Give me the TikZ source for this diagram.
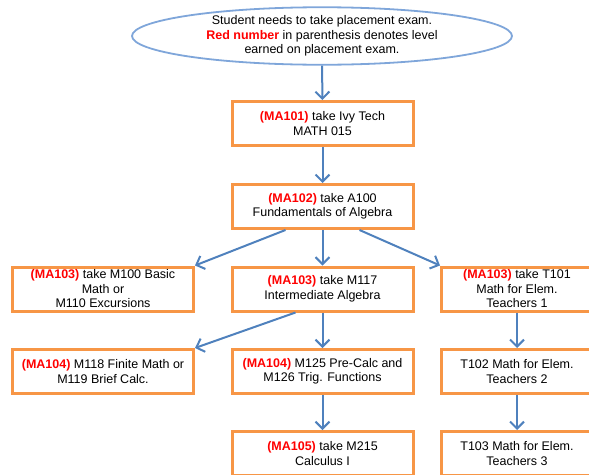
\documentclass[tikz,border=0pt]{standalone}
\usepackage{fontspec}
\setmainfont{Liberation Sans}
\usetikzlibrary{shapes.geometric,arrows.meta}

\definecolor{boxorange}{HTML}{F79646}
\definecolor{flowblue}{HTML}{4F81BD}
\definecolor{ovalblue}{HTML}{7FA6DA}
\definecolor{levelred}{HTML}{FF0000}
\newcommand{\lvl}[1]{\textcolor{levelred}{\textbf{(#1)}}}

\tikzset{
  course/.style={draw=boxorange, line width=3pt, fill=white, minimum width=181pt,
    minimum height=44pt, align=center, inner sep=0pt, font=\fontsize{12.5}{14.5}\selectfont},
  narrow/.style={course, minimum width=151pt},
  flow/.style={draw=flowblue, line width=2pt, -{Straight Barb[length=7pt,width=14pt]}},
}

\begin{document}
\begin{tikzpicture}[x=1pt, y=-1pt]
    \clip (0,0) rectangle (589,474);

    % start
    \node [ellipse, draw=ovalblue, line width=1.8pt, fill=white, minimum width=380pt,
      minimum height=55pt, inner sep=0pt, align=center,
      font=\fontsize{12.5}{14.5}\selectfont] (intro) at (322, 36)
      {Student needs to take placement exam.\\
       \textcolor{levelred}{\textbf{Red number}} in parenthesis denotes level\\
       earned on placement exam.};

    % middle column
    \node [course] (ivy) at (322.5, 123.5) {\lvl{MA101} take Ivy Tech\\MATH 015};
    \node [course] (alg) at (322.5, 206.5) {\lvl{MA102} take A100\\Fundamentals of Algebra};
    \node [course] (inter) at (322.5, 289) {\lvl{MA103} take M117\\Intermediate Algebra};
    \node [course] (precalc) at (322.5, 371.5) {\lvl{MA104} M125 Pre-Calc and\\M126 Trig. Functions};
    \node [course] (calc) at (322.5, 453.5) {\lvl{MA105} take M215\\Calculus I};

    % left column
    \node [course] (basic) at (103, 289) {\lvl{MA103} take M100 Basic\\Math or\\M110 Excursions};
    \node [course] (finite) at (103, 371.5) {\lvl{MA104} M118 Finite Math or\\M119 Brief Calc.};

    % right column
    \node [narrow] (elem1) at (517, 289) {\lvl{MA103} take T101\\Math for Elem.\\Teachers 1};
    \node [narrow] (elem2) at (517, 371.5) {T102 Math for Elem.\\Teachers 2};
    \node [narrow] (elem3) at (517, 453.5) {T103 Math for Elem.\\Teachers 3};

    \draw [flow] (intro.south) -- (ivy.north);
    \draw [flow] (ivy.south) -- (alg.north);
    \draw [flow] ([xshift=-37pt]alg.south) -- (basic.north east);
    \draw [flow] (alg.south) -- (inter.north);
    \draw [flow] ([xshift=37pt]alg.south) -- (elem1.north west);
    \draw [flow] ([xshift=-27pt]inter.south) -- (finite.north east);
    \draw [flow] (inter.south) -- (precalc.north);
    \draw [flow] (precalc.south) -- (calc.north);
    \draw [flow] (elem1.south) -- (elem2.north);
    \draw [flow] (elem2.south) -- (elem3.north);
\end{tikzpicture}
\end{document}
